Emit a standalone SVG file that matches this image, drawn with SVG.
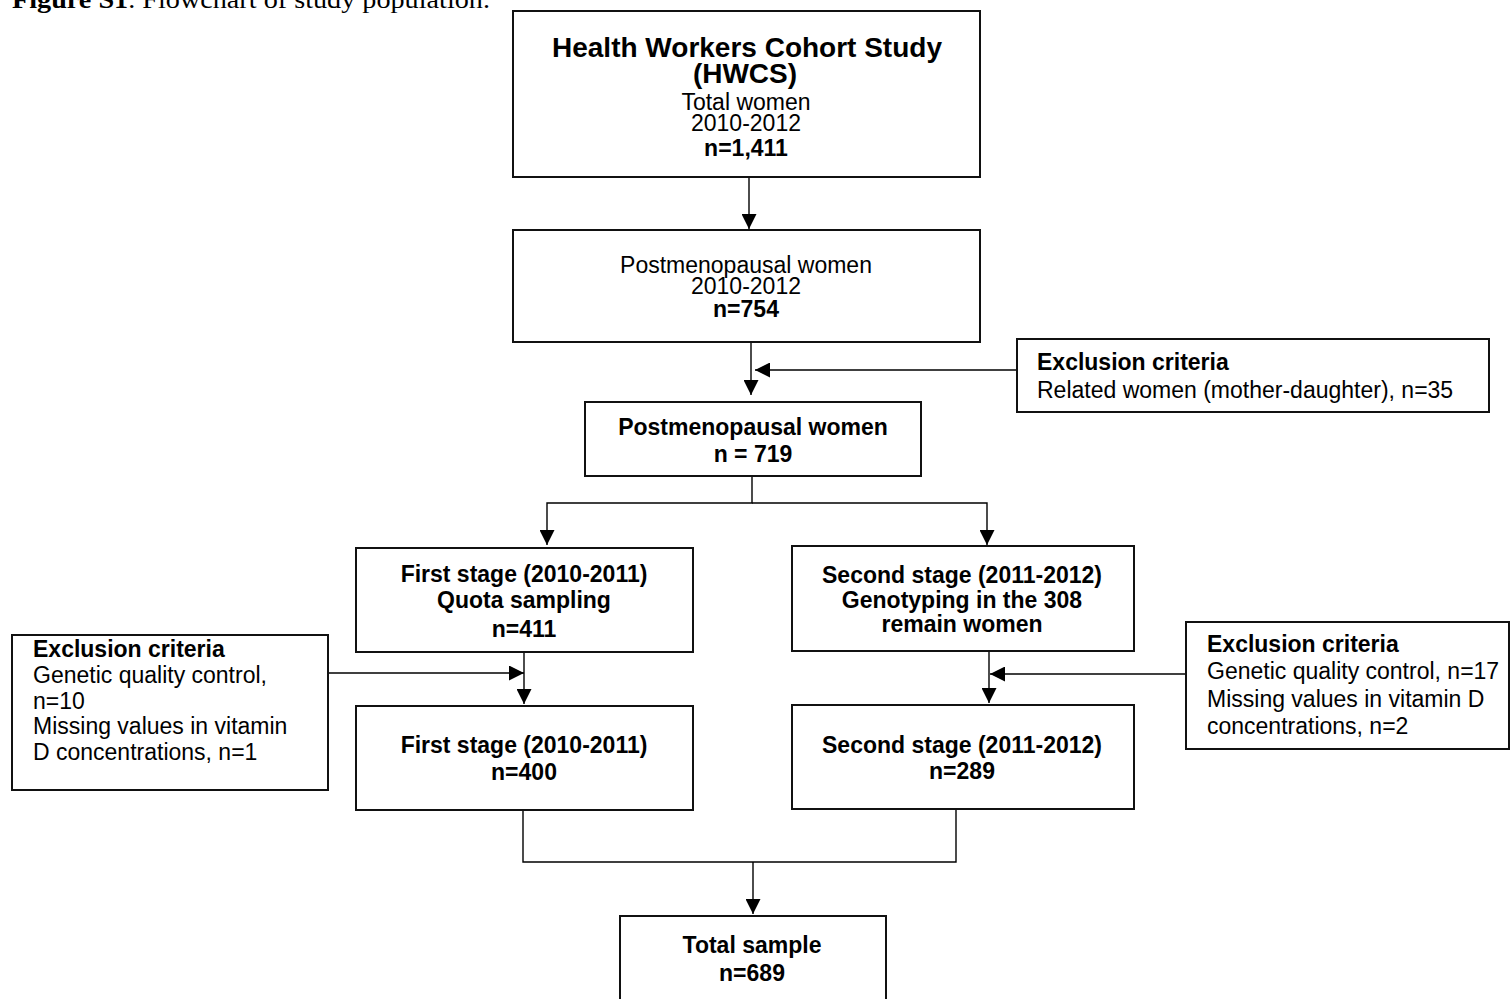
<svg xmlns="http://www.w3.org/2000/svg" width="1511" height="999" viewBox="0 0 1511 999">
<style>
.box{fill:#fff;stroke:#111;stroke-width:2}
.t{font-family:"Liberation Sans",Arial,sans-serif;font-size:23px;fill:#000}
.c{text-anchor:middle}
.b{font-weight:bold}
.title{font-size:28px}
.con{fill:none;stroke:#000;stroke-width:1.4}
.cap{font-family:"Liberation Serif","Times New Roman",serif;font-size:26px;fill:#000}
</style>
<defs>
<marker id="ah" viewBox="0 0 15 15" refX="15" refY="7.5" markerWidth="15" markerHeight="15" markerUnits="userSpaceOnUse" orient="auto">
<path d="M0,0 L15,7.5 L0,15 z" fill="#000"/>
</marker>
</defs>
<rect width="1511" height="999" fill="#fff"/>
<text class="cap" x="12" y="8" textLength="478" lengthAdjust="spacingAndGlyphs"><tspan font-weight="bold">Figure S1</tspan>. Flowchart of study population.</text>

<g id="connectors">
<path class="con" d="M749,177 V229" marker-end="url(#ah)"/>
<path class="con" d="M751,342 V395" marker-end="url(#ah)"/>
<path class="con" d="M1017,370 H755" marker-end="url(#ah)"/>
<path class="con" d="M752,476 V503 H547 V545" marker-end="url(#ah)"/>
<path class="con" d="M752,503 H987 V545" marker-end="url(#ah)"/>
<path class="con" d="M524,652 V704" marker-end="url(#ah)"/>
<path class="con" d="M328,673 H524" marker-end="url(#ah)"/>
<path class="con" d="M989,651 V703" marker-end="url(#ah)"/>
<path class="con" d="M1186,674 H990" marker-end="url(#ah)"/>
<path class="con" d="M523,810 V862 H956 V809"/>
<path class="con" d="M753,862 V914" marker-end="url(#ah)"/>
</g>

<g id="hwcs">
<rect class="box" x="513" y="11" width="467" height="166"/>
<text class="t c b title" x="747" y="57">Health Workers Cohort Study</text>
<text class="t c b title" x="745" y="83">(HWCS)</text>
<text class="t c" x="746" y="110">Total women</text>
<text class="t c" x="746" y="131">2010-2012</text>
<text class="t c b" x="746" y="156">n=1,411</text>
</g>

<g id="postmeno754">
<rect class="box" x="513" y="230" width="467" height="112"/>
<text class="t c" x="746" y="273">Postmenopausal women</text>
<text class="t c" x="746" y="294">2010-2012</text>
<text class="t c b" x="746" y="317">n=754</text>
</g>

<g id="excl-related">
<rect class="box" x="1017" y="339" width="472" height="73"/>
<text class="t b" x="1037" y="370">Exclusion criteria</text>
<text class="t" x="1037" y="398">Related women (mother-daughter), n=35</text>
</g>

<g id="postmeno719">
<rect class="box" x="585" y="402" width="336" height="74"/>
<text class="t c b" x="753" y="435">Postmenopausal women</text>
<text class="t c b" x="753" y="462">n = 719</text>
</g>

<g id="first-stage-411">
<rect class="box" x="356" y="548" width="337" height="104"/>
<text class="t c b" x="524" y="582">First stage (2010-2011)</text>
<text class="t c b" x="524" y="608">Quota sampling</text>
<text class="t c b" x="524" y="637">n=411</text>
</g>

<g id="second-stage-308">
<rect class="box" x="792" y="546" width="342" height="105"/>
<text class="t c b" x="962" y="583">Second stage (2011-2012)</text>
<text class="t c b" x="962" y="608">Genotyping in the 308</text>
<text class="t c b" x="962" y="632">remain women</text>
</g>

<g id="excl-left">
<rect class="box" x="12" y="635" width="316" height="155"/>
<text class="t b" x="33" y="657">Exclusion criteria</text>
<text class="t" x="33" y="683">Genetic quality control,</text>
<text class="t" x="33" y="709">n=10</text>
<text class="t" x="33" y="734">Missing values in vitamin</text>
<text class="t" x="33" y="760">D concentrations, n=1</text>
</g>

<g id="excl-right">
<rect class="box" x="1186" y="622" width="323" height="127"/>
<text class="t b" x="1207" y="652">Exclusion criteria</text>
<text class="t" x="1207" y="679">Genetic quality control, n=17</text>
<text class="t" x="1207" y="707">Missing values in vitamin D</text>
<text class="t" x="1207" y="734">concentrations, n=2</text>
</g>

<g id="first-stage-400">
<rect class="box" x="356" y="706" width="337" height="104"/>
<text class="t c b" x="524" y="753">First stage (2010-2011)</text>
<text class="t c b" x="524" y="780">n=400</text>
</g>

<g id="second-stage-289">
<rect class="box" x="792" y="705" width="342" height="104"/>
<text class="t c b" x="962" y="753">Second stage (2011-2012)</text>
<text class="t c b" x="962" y="779">n=289</text>
</g>

<g id="total">
<rect class="box" x="620" y="916" width="266" height="100"/>
<text class="t c b" x="752" y="953">Total sample</text>
<text class="t c b" x="752" y="981">n=689</text>
</g>
</svg>
